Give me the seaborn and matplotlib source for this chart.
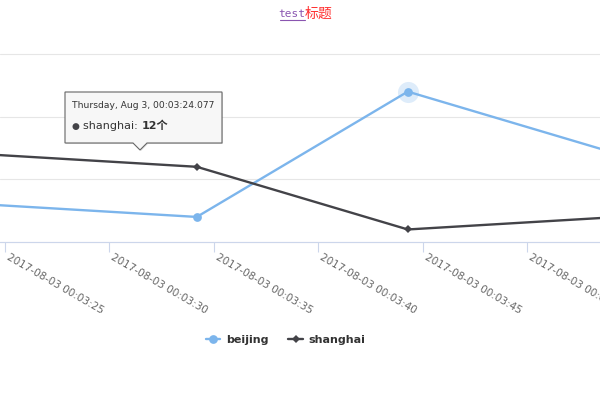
import numpy as np
import pandas as pd
import matplotlib
matplotlib.use("Agg")
import matplotlib.pyplot as plt
import matplotlib.dates as mdates
from matplotlib.transforms import IdentityTransform, ScaledTranslation
from matplotlib.patches import Polygon
from matplotlib.lines import Line2D
import seaborn as sns

# ---- data ----
times = ["2017-08-03 00:03:24.077", "2017-08-03 00:03:34.180",
         "2017-08-03 00:03:44.280", "2017-08-03 00:03:54.380"]
beijing = [8, 7, 17, 12]
shanghai = [12, 11, 6, 7]
series_names = ["beijing", "shanghai"]
series_colors = ["#7cb5ec", "#434348"]
tick_times = ["2017-08-03 00:03:25", "2017-08-03 00:03:30", "2017-08-03 00:03:35",
              "2017-08-03 00:03:40", "2017-08-03 00:03:45", "2017-08-03 00:03:50"]
y_ticks = [5, 10, 15, 20]
x_range = ["2017-08-03 00:03:24.761", "2017-08-03 00:03:53.480"]
title_latin = "test"
title_cjk = "标题"
tooltip_header = "Thursday, Aug 3, 00:03:24.077"
tooltip_series = "shanghai"
tooltip_value = "12个"
hover_index = 2  # hovered beijing point (halo)

sns.set_theme(style="white")
plt.rcParams["font.family"] = ["DejaVu Sans", "Noto Sans CJK SC"]

W, H = 600, 400
fig = plt.figure(figsize=(6, 4), dpi=100)
ax = fig.add_axes([0, (H - 242) / H, 1, (242 - 54) / H])

df = pd.DataFrame({
    "time": pd.to_datetime(times * 2),
    "value": beijing + shanghai,
    "city": [series_names[0]] * len(times) + [series_names[1]] * len(times),
})
palette = dict(zip(series_names, series_colors))
sns.lineplot(data=df, x="time", y="value", hue="city", style="city",
             markers={series_names[0]: "o", series_names[1]: "D"}, dashes=False,
             palette=palette, linewidth=1.7, markeredgewidth=0, ax=ax, legend=False)
for ln in ax.lines:
    if ln.get_marker() == "o":
        ln.set_markersize(6.3)
    else:
        ln.set_markersize(4.5)

# halo on hovered point
ht = pd.to_datetime(times)[hover_index]
ax.scatter([ht], [beijing[hover_index]], s=230, color=series_colors[0], alpha=0.25,
           linewidths=0, zorder=1)

ax.set_xlim(pd.to_datetime(x_range[0]), pd.to_datetime(x_range[1]))
ax.set_ylim(y_ticks[0], y_ticks[-1])
ax.set_yticks(y_ticks)
ax.yaxis.grid(True, color="#e6e6e6", linewidth=0.8)
for gl in ax.get_ygridlines():
    gl.set_clip_on(False)
ax.tick_params(axis="y", length=0, labelleft=False)
ax.set_xlabel("")
ax.set_ylabel("")

xt = pd.to_datetime(tick_times)
ax.set_xticks(xt)
ax.set_xticklabels([t.strftime("%Y-%m-%d %H:%M:%S") for t in xt], rotation=-30,
                   ha="left", va="top", rotation_mode="anchor",
                   fontsize=7.5, color="#666666")
ax.tick_params(axis="x", direction="out", length=7, width=0.8, color="#ccd6eb", pad=0.5,
               bottom=True)
shift = ScaledTranslation(5 / 100, 0, fig.dpi_scale_trans)
for lab in ax.get_xticklabels():
    lab.set_transform(lab.get_transform() + shift)
for s in ["top", "left", "right"]:
    ax.spines[s].set_visible(False)
ax.spines["bottom"].set_color("#ccd6eb")
ax.spines["bottom"].set_linewidth(0.8)

# legend
handles = [Line2D([], [], color=series_colors[0], marker="o", markersize=6.3, lw=1.7,
                  markeredgewidth=0),
           Line2D([], [], color=series_colors[1], marker="D", markersize=4.5, lw=1.7,
                  markeredgewidth=0)]
leg = fig.legend(handles, series_names, loc="center", bbox_to_anchor=(0.476, 0.15),
                 ncol=2, frameon=False, handlelength=1.3, columnspacing=1.8,
                 handletextpad=0.5, prop={"weight": "bold", "size": 8})
for t in leg.get_texts():
    t.set_color("#333333")

# title
fig.text(305 / W, 1 - 14 / H, title_latin, ha="right", va="center",
         family="DejaVu Sans Mono", fontsize=8, color="#8a55b0")
fig.text(305 / W, 1 - 14 / H, title_cjk, ha="left", va="center",
         family=["Noto Sans CJK SC", "DejaVu Sans"], fontsize=10, color="#ff3030")
fig.add_artist(Line2D([280, 305], [H - 20, H - 20], transform=IdentityTransform(),
                      color="#8a55b0", lw=0.8))

# tooltip
bx0, bx1, by0, by1 = 65, 222, H - 143, H - 92
px = 140
shadow = Polygon([(bx0 + 1, by0 - 1), (px - 7 + 1, by0 - 1), (px + 1, by0 - 8), (px + 7 + 1, by0 - 1),
                  (bx1 + 1, by0 - 1), (bx1 + 1, by1 - 1), (bx0 + 1, by1 - 1)], closed=True,
                 transform=IdentityTransform(), facecolor="#000000", alpha=0.12, edgecolor="none")
fig.add_artist(shadow)
box = Polygon([(bx0, by0), (px - 7, by0), (px, by0 - 7), (px + 7, by0),
               (bx1, by0), (bx1, by1), (bx0, by1)], closed=True,
              transform=IdentityTransform(), facecolor="#f7f7f7", edgecolor="#666666", lw=0.8)
fig.add_artist(box)
fig.text(72 / W, 1 - 106 / H, tooltip_header, ha="left", va="center",
         fontsize=6.6, color="#333333")
fig.text(72 / W, 1 - 126 / H, "●", ha="left", va="center", fontsize=6.5,
         color=series_colors[1])
t2 = fig.text(83 / W, 1 - 126 / H, tooltip_series + ": ", ha="left", va="center",
              fontsize=8, color="#333333")
fig.canvas.draw()
bb = t2.get_window_extent()
fig.text(bb.x1 / W, 1 - 126 / H, tooltip_value, ha="left", va="center", fontsize=8,
         weight="bold", color="#333333", family=["DejaVu Sans", "Noto Sans CJK SC"])

fig.savefig("out.png", dpi=100, facecolor="white")
